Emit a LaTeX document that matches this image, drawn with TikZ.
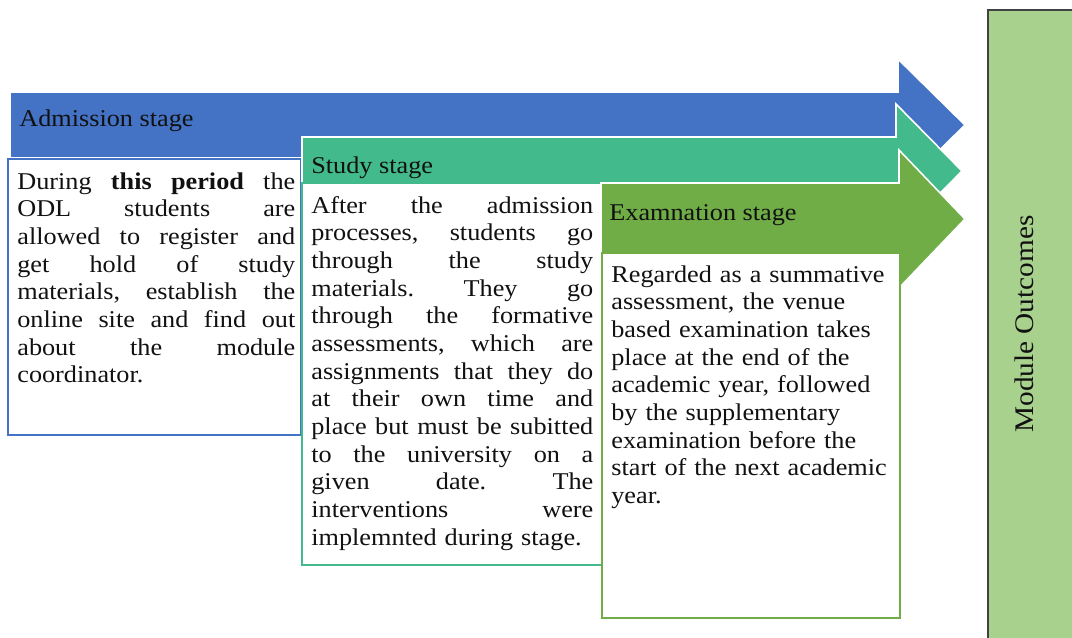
\documentclass[tikz,border=0pt]{standalone}
\usepackage{fontspec}
\setmainfont{Liberation Serif}[FakeStretch=1.09]
\usepackage{tikz}
\definecolor{admit}{HTML}{4472C4}
\definecolor{study}{HTML}{43BA8B}
\definecolor{exam}{HTML}{70AD47}
\definecolor{outcome}{HTML}{A9D18E}
\definecolor{ink}{HTML}{111111}
% one justified line of a stage text (align=left fixes the spaces, so free them again)
\newcommand{\jl}[1]{\makebox[\hsize][s]{\frenchspacing\spaceskip=0pt\xspaceskip=0pt\relax #1}}
\tikzset{
  stagearrow/.style={draw=white, line width=0.9pt},
  stagebox/.style={fill=white, line width=1.1pt},
  stagehead/.style={anchor=base west, inner sep=0pt, text=ink},
  stagetext/.style={anchor=base west, inner sep=0pt, align=left, text=ink},
}

\begin{document}
\begin{tikzpicture}[x=0.02cm, y=-0.02cm, font=\fontsize{13.7}{15.75}\selectfont]
  \useasboundingbox (0,0) rectangle (1072,637);
  \clip (0,0) rectangle (1072,637);
  % admission stage
  \path[fill=admit, stagearrow] (10,92) -- (898,92) -- (898,59) -- (965,125) -- (898,191) -- (898,158) -- (10,158) -- cycle;
  \node[stagehead] (admithead) at (19,126) {Admission stage};
  \path[stagebox, draw=admit] (8,159) rectangle (301,435);
  \node[stagetext, text width=5.56cm] (admittext) at (17,189) {%
    \jl{During \textbf{this period} the}\\
    \jl{ODL students are}\\
    \jl{allowed to register and}\\
    \jl{get hold of study}\\
    \jl{materials, establish the}\\
    \jl{online site and find out}\\
    \jl{about the module}\\
    coordinator.};
  % study stage
  \path[fill=study, stagearrow] (302,137) -- (896,137) -- (896,104) -- (962,171) -- (896,238) -- (896,205) -- (302,205) -- cycle;
  \node[stagehead] (studyhead) at (311,173) {Study stage};
  \path[stagebox, draw=study] (302,183) rectangle (602,565);
  \node[stagetext, text width=5.64cm] (studytext) at (311,213) {%
    \jl{After the admission}\\
    \jl{processes, students go}\\
    \jl{through the study}\\
    \jl{materials. They go}\\
    \jl{through the formative}\\
    \jl{assessments, which are}\\
    \jl{assignments that they do}\\
    \jl{at their own time and}\\
    \jl{place but must be subitted}\\
    \jl{to the university on a}\\
    \jl{given date. The}\\
    \jl{interventions were}\\
    implemnted during stage.};
  % examination stage
  \path[fill=exam, stagearrow] (601,183) -- (899,183) -- (899,150) -- (965,219) -- (899,288) -- (899,255) -- (601,255) -- cycle;
  \node[stagehead] (examhead) at (609,220) {Examnation stage};
  \path[stagebox, draw=exam] (602,253) rectangle (900,618);
  \node[stagetext, text width=5.7cm] (examtext) at (611,282) {%
    Regarded as a summative\\
    assessment, the venue\\
    based examination takes\\
    place at the end of the\\
    academic year, followed\\
    by the supplementary\\
    examination before the\\
    start of the next academic\\
    year.};
  % outcomes
  \path[fill=outcome, draw=ink!80, line width=0.8pt] (988,10) rectangle (1085,650);
  \node[rotate=90, inner sep=0pt, text=ink, font=\fontsize{15.3}{18}\selectfont] (outcomes) at (1024,324) {Module Outcomes};
\end{tikzpicture}
\end{document}
